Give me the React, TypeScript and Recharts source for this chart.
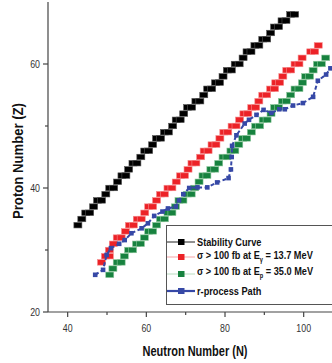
import React from 'react'
import { ComposedChart, Scatter, XAxis, YAxis } from 'recharts'

// [N, Z] — wide cells are two neighbouring isotopes
const stability: [number, number][] = [
  [42.6, 34], [43.6, 35], [44.6, 36], [45.6, 36], [46.6, 37], [47.6, 38], [48.6, 38],
  [49.7, 39], [50.7, 40], [51.7, 40], [52.7, 41], [53.8, 42], [54.8, 42], [55.5, 43],
  [56.6, 44], [57.6, 44], [58.6, 45], [59.6, 46], [60.6, 46], [61.6, 47], [62.6, 48],
  [63.6, 48], [64.6, 49], [65.6, 49], [66.7, 50], [67.6, 51], [68.6, 51], [69.5, 52],
  [70.5, 53], [71.5, 53], [72.6, 54], [73.6, 54], [74.6, 55], [75.6, 56], [76.6, 56],
  [77.6, 57], [78.6, 57], [79.5, 58], [80.6, 59], [81.6, 59], [82.6, 60], [83.6, 60],
  [84.6, 61], [85.6, 62], [86.6, 62], [87.6, 63], [88.6, 63], [89.6, 64], [90.6, 64],
  [91.6, 65], [92.6, 66], [93.6, 66], [94.5, 67], [95.5, 67], [96.7, 68], [97.7, 68],
]

const gamma137: [number, number][] = [
  [48.6, 28], [49.6, 29], [50.6, 29], [50.6, 30], [51.6, 31], [52.6, 32], [53.6, 32],
  [54.7, 33], [55.7, 34], [56.7, 34], [57.7, 35], [58.7, 35], [59.6, 36], [60.6, 37],
  [61.6, 37], [62.6, 38], [63.6, 39], [64.6, 39], [65.5, 40], [66.5, 40], [67.6, 41],
  [68.7, 42], [69.7, 42], [70.6, 43], [71.6, 44], [72.6, 44], [73.8, 45], [74.7, 46],
  [75.7, 46], [76.7, 47], [77.7, 47], [78.7, 48], [79.7, 49], [80.7, 49], [81.8, 50],
  [82.8, 50], [83.7, 51], [84.8, 52], [85.8, 52], [86.8, 53], [87.8, 53], [88.6, 54],
  [89.6, 55], [90.6, 55], [91.6, 56], [92.6, 56], [92.9, 57], [93.9, 57], [94.7, 58],
  [95.7, 59], [96.7, 59], [97.8, 60], [98.8, 60], [99.6, 61], [101.8, 62], [102.8, 62],
  [103.7, 63],
]

const proton350: [number, number][] = [
  [50.7, 26], [51.5, 27], [52.6, 28], [53.6, 28], [54.4, 29], [55.5, 30], [56.5, 30],
  [57.5, 31], [58.5, 31], [59.5, 32], [60.6, 33], [61.6, 33], [62.6, 34], [63.6, 35],
  [64.6, 35], [65.5, 36], [66.5, 36], [67.4, 37], [68.3, 38], [69.3, 38], [70.4, 39],
  [71.4, 39], [72.3, 40], [73.4, 41], [74.4, 42], [75.4, 42], [76.4, 43], [77.4, 43],
  [78.4, 44], [79.5, 45], [80.5, 45], [81.5, 46], [82.5, 46], [83.5, 47], [84.5, 48],
  [85.5, 48], [86.7, 49], [87.8, 50], [88.8, 50], [89.7, 51], [90.7, 51], [91.7, 52],
  [92.6, 53], [93.6, 53], [94.6, 54], [95.6, 54], [96.7, 55], [97.8, 56], [98.8, 56],
  [99.7, 57], [100.5, 58], [101.5, 58], [102.4, 59], [103.5, 60], [104.5, 60], [105.6, 61],
]

const rProcess: [number, number][] = [
  [47, 26], [49, 26.8], [49.9, 29.2], [51, 30.3], [53.1, 31], [54.5, 31.6], [56.2, 32.7],
  [58.8, 33.5], [60.4, 34.3], [62, 35.5], [64.1, 36.2], [65.5, 36.7], [67.5, 37],
  [68.3, 38], [69.4, 39], [70.9, 40], [73, 40.1], [75.5, 40.1], [78, 40.9], [80.9, 41.6],
  [81.5, 43], [81.7, 45], [81.8, 46.8], [82.9, 48.5], [85, 50.4], [86.1, 51], [88, 51.8],
  [89.8, 52.6], [91.8, 52.1], [93.8, 52.7], [95.2, 52.7], [97.3, 53.3], [99.8, 53.7],
  [102.4, 54.7], [103.6, 57.3], [105.7, 58.3], [106.8, 59.3],
]

const xTicks = [40, 50, 60, 70, 80, 90, 100]
const yTicks = [20, 30, 40, 50, 60]

const toRows = (pts: [number, number][]) => pts.map(([n, z]) => ({ n, z }))

const font = "'Liberation Sans', Arial, sans-serif"
const axisColor = '#444'

const Cell = (fill: string, edge: string) => (props: any) => (
  <rect x={props.cx - 4} y={props.cy - 2.75} width={8} height={5.5} fill={fill} stroke={edge} strokeWidth={0.6} />
)

const BlueDot = (props: any) => (
  <rect x={props.cx - 2.3} y={props.cy - 2.3} width={4.6} height={4.6} fill="#3648a6" />
)

const BottomTick = (props: any) => {
  const { x, y, payload } = props
  const major = payload.value % 20 === 0
  return (
    <g>
      <line x1={x} x2={x} y1={y} y2={y + (major ? 5 : 3)} stroke={axisColor} strokeWidth={1.2} />
      {major && (
        <text transform={`translate(${x},${y + 20}) scale(0.8,1)`} textAnchor="middle" fontSize={11} fill="#333" fontFamily={font}>
          {payload.value}
        </text>
      )}
    </g>
  )
}

const TopTick = (props: any) => {
  const { x, y, payload } = props
  const major = payload.value % 20 === 0
  return <line x1={x} x2={x} y1={y} y2={y + (major ? 5 : 3)} stroke={axisColor} strokeWidth={1.2} />
}

const LeftTick = (props: any) => {
  const { x, y, payload } = props
  const major = payload.value % 20 === 0
  return (
    <g>
      <line x1={x} x2={x - (major ? 5 : 3)} y1={y} y2={y} stroke={axisColor} strokeWidth={1.2} />
      {major && (
        <text transform={`translate(${x - 8},${y + 4}) scale(0.8,1)`} textAnchor="end" fontSize={11} fill="#333" fontFamily={font}>
          {payload.value}
        </text>
      )}
    </g>
  )
}

const XTitle = (props: any) => {
  const vb = props.viewBox
  return (
    <text x={vb.x + vb.width / 2 + 5} y={vb.y + 44} textAnchor="middle" fontSize={14} fontWeight={700} fill="#111"
      fontFamily={font} textLength={105} lengthAdjust="spacingAndGlyphs">
      Neutron Number (N)
    </text>
  )
}

const YTitle = (props: any) => {
  const vb = props.viewBox
  const cy = vb.y + vb.height / 2 + 4
  return (
    <text transform={`translate(23,${cy}) rotate(-90)`} textAnchor="middle" fontSize={14.5} fontWeight={700} fill="#111"
      fontFamily={font} textLength={116} lengthAdjust="spacingAndGlyphs">
      Proton Number (Z)
    </text>
  )
}

const legendItems = [
  { label: <>Stability Curve</>, line: '#222', lineW: 1, mark: '#000' },
  { label: <>σ &gt; 100 fb at E<sub style={{ fontSize: 7 }}>γ</sub> = 13.7 MeV</>, line: '#f5a3a5', lineW: 1, mark: '#ec2227' },
  { label: <>σ &gt; 100 fb at E<sub style={{ fontSize: 7 }}>p</sub> = 35.0 MeV</>, line: '#b9dcc0', lineW: 1, mark: '#17823f' },
  { label: <>r-process Path</>, line: '#3648a6', lineW: 2.2, mark: '#3648a6' },
]

const LegendBox = () => (
  <div style={{ position: 'absolute', left: 166, top: 225, width: 175, height: 80, border: '1px solid #555', background: '#fff', boxSizing: 'border-box', paddingTop: 8 }}>
    {legendItems.map((it, i) => (
      <div key={i} style={{ display: 'flex', alignItems: 'center', height: i === 2 ? 18 : 15.5, lineHeight: '12px' }}>
        <svg width={28} height={10} style={{ flex: 'none' }}>
          <line x1={0} x2={28} y1={5} y2={5} stroke={it.line} strokeWidth={it.lineW} />
          <rect x={11} y={2} width={6.5} height={6} fill={it.mark} />
        </svg>
        <span style={{ display: 'inline-block', fontFamily: font, fontWeight: 700, fontSize: 11.5, color: '#111', marginLeft: 2, whiteSpace: 'nowrap', transform: 'scaleX(0.8)', transformOrigin: 'left center' }}>
          {it.label}
        </span>
      </div>
    ))}
  </div>
)

export default function App() {
  return (
    <div style={{ position: 'absolute', left: 0, top: 0, width: 332, height: 363, overflow: 'hidden', background: '#fff' }}>
      <ComposedChart width={332} height={363} margin={{ top: 2, right: 0, bottom: 0, left: 0 }}>
        <XAxis
          xAxisId="b"
          dataKey="n"
          type="number"
          domain={[35, 107.2]}
          allowDataOverflow
          ticks={xTicks}
          height={51}
          tickSize={0}
          tickMargin={0}
          tickLine={false}
          tick={<BottomTick />}
          axisLine={{ stroke: axisColor, strokeWidth: 1.2 }}
          label={<XTitle />}
        />
        <XAxis
          xAxisId="t"
          orientation="top"
          dataKey="n"
          type="number"
          domain={[35, 107.2]}
          allowDataOverflow
          ticks={xTicks}
          height={0}
          tickSize={0}
          tickMargin={0}
          tickLine={false}
          tick={<TopTick />}
          axisLine={{ stroke: axisColor, strokeWidth: 1.2 }}
        />
        <YAxis
          yAxisId="l"
          dataKey="z"
          type="number"
          domain={[20, 70]}
          allowDataOverflow
          ticks={yTicks}
          width={48}
          tickSize={0}
          tickMargin={0}
          tickLine={false}
          tick={<LeftTick />}
          axisLine={{ stroke: axisColor, strokeWidth: 1.2 }}
          label={<YTitle />}
        />
        <Scatter name="Stability Curve" data={toRows(stability)} xAxisId="b" yAxisId="l" shape={Cell('#000', '#555')} isAnimationActive={false} />
        <Scatter name="gamma" data={toRows(gamma137)} xAxisId="b" yAxisId="l" shape={Cell('#ec2227', '#f58a8c')} isAnimationActive={false} />
        <Scatter name="proton" data={toRows(proton350)} xAxisId="b" yAxisId="l" shape={Cell('#17823f', '#8cc79c')} isAnimationActive={false} />
        <Scatter
          name="r-process Path"
          data={toRows(rProcess)}
          xAxisId="b"
          yAxisId="l"
          line={{ stroke: '#3648a6', strokeWidth: 2, strokeDasharray: '4 2.5' }}
          shape={<BlueDot />}
          isAnimationActive={false}
        />
      </ComposedChart>
      <LegendBox />
    </div>
  )
}
